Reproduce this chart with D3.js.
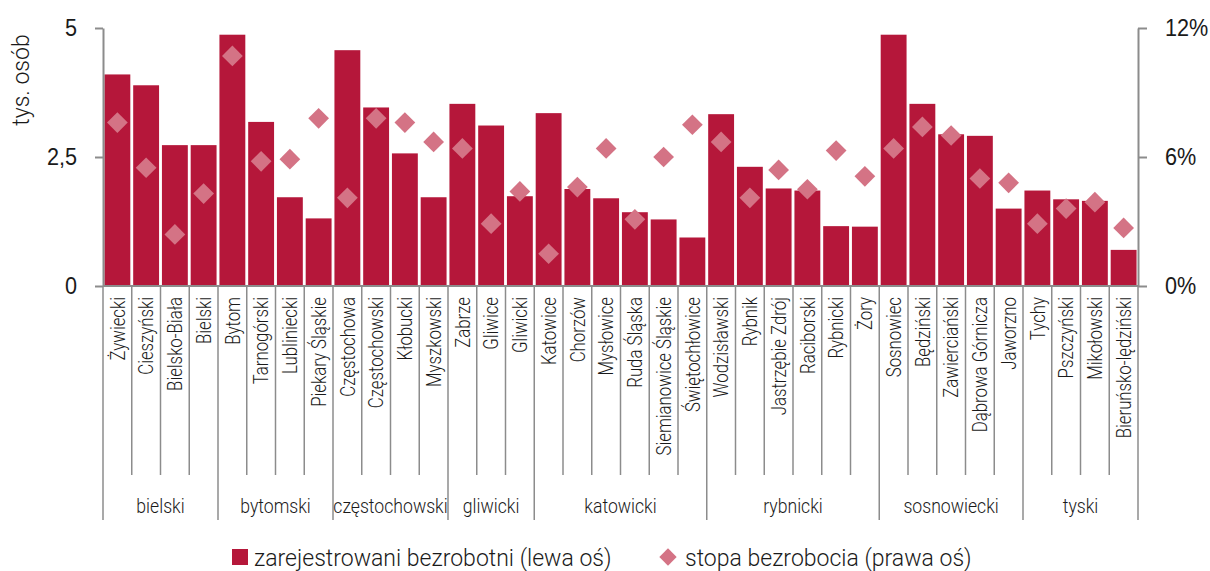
<!DOCTYPE html>
<html lang="pl">
<head>
<meta charset="utf-8">
<script src="https://cdn.jsdelivr.net/npm/d3@7"></script>
<style>
  html, body { margin: 0; padding: 0; background: #fff; }
  svg { display: block; font-family: Roboto, "Liberation Sans", sans-serif; font-weight: 300; }
  text { fill: #1a1a1a; }
</style>
</head>
<body>
<svg id="chart" width="1210" height="571"></svg>
<script>
// Powiaty i miasta na prawach powiatu, w kolejności podregionów
const powiaty = [
  "Żywiecki", "Cieszyński", "Bielsko-Biała", "Bielski",
  "Bytom", "Tarnogórski", "Lubliniecki", "Piekary Śląskie",
  "Częstochowa", "Częstochowski", "Kłobucki", "Myszkowski",
  "Zabrze", "Gliwice", "Gliwicki",
  "Katowice", "Chorzów", "Mysłowice", "Ruda Śląska", "Siemianowice Śląskie", "Świętochłowice",
  "Wodzisławski", "Rybnik", "Jastrzębie Zdrój", "Raciborski", "Rybnicki", "Żory",
  "Sosnowiec", "Będziński", "Zawierciański", "Dąbrowa Górnicza", "Jaworzno",
  "Tychy", "Pszczyński", "Mikołowski", "Bieruńsko-lędziński"
];

// Podregiony i liczba jednostek w każdym z nich
const podregiony = ["bielski", "bytomski", "częstochowski", "gliwicki", "katowicki", "rybnicki", "sosnowiecki", "tyski"];
const liczbaJednostek = [4, 4, 4, 3, 6, 6, 5, 4];

// Zarejestrowani bezrobotni, tys. osób (lewa oś)
const bezrobotni = [
  4.10, 3.89, 2.73, 2.73,
  4.87, 3.18, 1.72, 1.31,
  4.57, 3.46, 2.57, 1.72,
  3.53, 3.11, 1.74,
  3.35, 1.88, 1.70, 1.43, 1.29, 0.94,
  3.33, 2.31, 1.89, 1.85, 1.16, 1.15,
  4.87, 3.53, 2.94, 2.91, 1.50,
  1.85, 1.68, 1.65, 0.70
];

// Stopa bezrobocia, % (prawa oś)
const stopa = [
  7.6, 5.5, 2.4, 4.3,
  10.7, 5.8, 5.9, 7.8,
  4.1, 7.8, 7.6, 6.7,
  6.4, 2.9, 4.4,
  1.5, 4.6, 6.4, 3.1, 6.0, 7.5,
  6.7, 4.1, 5.4, 4.5, 6.3, 5.1,
  6.4, 7.4, 7.0, 5.0, 4.8,
  2.9, 3.6, 3.9, 2.7
];

const osLewaTicks = [0, 2.5, 5];
const osPrawaTicks = [0, 6, 12];
const legenda = ["zarejestrowani bezrobotni (lewa oś)", "stopa bezrobocia (prawa oś)"];
const tytulOsi = "tys. osób";

const BAR = "#b5173a";
const DIAMOND = "#d47385";
const AXIS = "#8c8c8c";
const SQUEEZE = 0.84;       // narrow look for the category labels
const SQUEEZE_BIG = 0.94;   // narrow look for the larger texts

const svg = d3.select("#chart");

const x = d3.scaleBand()
  .domain(d3.range(powiaty.length))
  .range([103, 1138])
  .paddingInner(0.1)
  .paddingOuter(0.05);
const yL = d3.scaleLinear().domain([0, 5]).range([286, 28]);
const yR = d3.scaleLinear().domain([0, 12]).range([286, 28]);

const step = x.step();
const boundary = i => x(0) - step * 0.05 + i * step;

// Bars
svg.append("g").selectAll("rect")
  .data(bezrobotni)
  .join("rect")
  .attr("x", (d, i) => x(i))
  .attr("width", x.bandwidth())
  .attr("y", d => yL(d))
  .attr("height", d => yL(0) - yL(d))
  .attr("fill", BAR);

// Diamonds
const diamond = d3.symbol().type(d3.symbolSquare).size(215);
svg.append("g").selectAll("path")
  .data(stopa)
  .join("path")
  .attr("d", diamond)
  .attr("transform", (d, i) => `translate(${x(i) + x.bandwidth() / 2},${yR(d)}) rotate(45)`)
  .attr("fill", DIAMOND);

// Squeeze helper for text nodes drawn by axes
function squeezeAxisText(g, anchorX) {
  g.selectAll(".tick text")
    .attr("x", 0)
    .attr("transform", `translate(${anchorX},0) scale(${SQUEEZE_BIG},1)`);
}

// Left axis
const gL = svg.append("g")
  .attr("transform", "translate(103,0)")
  .call(d3.axisLeft(yL).tickValues(osLewaTicks).tickSize(8).tickSizeOuter(0).tickPadding(18)
    .tickFormat(d => String(d).replace(".", ",")));
gL.selectAll("text").attr("font-size", 23).attr("font-family", null).attr("fill", "#1a1a1a");
gL.selectAll("line, path").attr("stroke", AXIS).attr("stroke-width", 2);
squeezeAxisText(gL, -26);

// Right axis
const gR = svg.append("g")
  .attr("transform", "translate(1138,0)")
  .call(d3.axisRight(yR).tickValues(osPrawaTicks).tickSize(9).tickSizeOuter(0).tickPadding(18)
    .tickFormat(d => d + "%"));
gR.selectAll("text").attr("font-size", 23).attr("font-family", null).attr("fill", "#1a1a1a");
gR.selectAll("line, path").attr("stroke", AXIS).attr("stroke-width", 2);
squeezeAxisText(gR, 27);

// Left axis title
svg.append("text")
  .attr("transform", `translate(29,80) rotate(-90) scale(${SQUEEZE_BIG + 0.02},1)`)
  .attr("text-anchor", "middle")
  .attr("font-size", 24)
  .text(tytulOsi);

// Category axis: baseline, separators and labels
const gX = svg.append("g");
gX.append("line")
  .attr("x1", 103).attr("x2", 1138).attr("y1", 286).attr("y2", 286)
  .attr("stroke", AXIS).attr("stroke-width", 2);

const groupStarts = [0];
liczbaJednostek.forEach((n, i) => groupStarts.push(groupStarts[i] + n));

gX.selectAll("line.sep")
  .data(d3.range(powiaty.length + 1))
  .join("line")
  .attr("class", "sep")
  .attr("x1", i => boundary(i)).attr("x2", i => boundary(i))
  .attr("y1", 286)
  .attr("y2", i => groupStarts.includes(i) ? 520 : 475)
  .attr("stroke", AXIS).attr("stroke-width", 1.5);

gX.selectAll("text.cat")
  .data(powiaty)
  .join("text")
  .attr("class", "cat")
  .attr("transform", (d, i) => `translate(${x(i) + x.bandwidth() / 2},297) rotate(-90) scale(${SQUEEZE},1)`)
  .attr("text-anchor", "end")
  .attr("dy", "0.36em")
  .attr("font-size", 20)
  .text(d => d);

gX.selectAll("text.grp")
  .data(podregiony)
  .join("text")
  .attr("class", "grp")
  .attr("transform", (d, i) => `translate(${(boundary(groupStarts[i]) + boundary(groupStarts[i + 1])) / 2},513) scale(${SQUEEZE},1)`)
  .attr("text-anchor", "middle")
  .attr("font-size", 21)
  .text(d => d);

// Legend
const gLeg = svg.append("g");
gLeg.append("rect").attr("x", 232).attr("y", 549).attr("width", 16).attr("height", 16).attr("fill", BAR);
gLeg.append("text")
  .attr("transform", `translate(254,566) scale(${SQUEEZE_BIG},1)`)
  .attr("font-size", 24.5)
  .text(legenda[0]);
gLeg.append("path")
  .attr("d", d3.symbol().type(d3.symbolSquare).size(150))
  .attr("transform", "translate(668,557) rotate(45)")
  .attr("fill", DIAMOND);
gLeg.append("text")
  .attr("transform", `translate(685,566) scale(${SQUEEZE_BIG},1)`)
  .attr("font-size", 24.5)
  .text(legenda[1]);
</script>
</body>
</html>
